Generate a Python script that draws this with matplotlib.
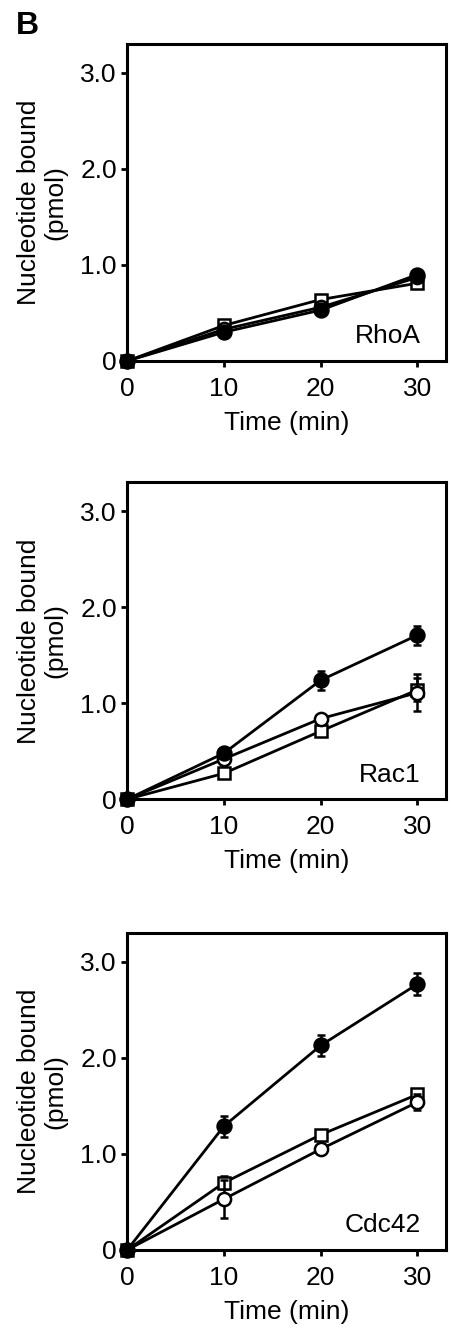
import matplotlib.pyplot as plt
import numpy as np

plt.rcParams['font.family'] = ['Liberation Sans', 'DejaVu Sans']

time = [0, 10, 20, 30]
panels = ['RhoA', 'Rac1', 'Cdc42']

# filled circles
filled = {'RhoA': [0, 0.30, 0.53, 0.90],
          'Rac1': [0, 0.48, 1.24, 1.71],
          'Cdc42': [0, 1.29, 2.13, 2.77]}
filled_err = {'RhoA': [0, 0, 0, 0],
              'Rac1': [0, 0.03, 0.10, 0.10],
              'Cdc42': [0, 0.11, 0.11, 0.11]}
# open circles
opencirc = {'RhoA': [0, 0.33, 0.56, 0.87],
            'Rac1': [0, 0.42, 0.84, 1.11],
            'Cdc42': [0, 0.53, 1.05, 1.54]}
opencirc_err = {'RhoA': [0, 0, 0, 0],
                'Rac1': [0, 0.03, 0.03, 0.19],
                'Cdc42': [0, 0.20, 0.03, 0.08]}
# open squares
squares = {'RhoA': [0, 0.37, 0.64, 0.81],
           'Rac1': [0, 0.27, 0.71, 1.14],
           'Cdc42': [0, 0.70, 1.20, 1.62]}
squares_err = {'RhoA': [0, 0, 0, 0],
               'Rac1': [0, 0.03, 0.03, 0.12],
               'Cdc42': [0, 0.07, 0.03, 0.03]}

fig = plt.figure(figsize=(4.51, 13.31), dpi=100)
bottoms = [0.7288, 0.3995, 0.0609]
fs = 19

for name, b in zip(panels, bottoms):
    ax = fig.add_axes([0.282, b, 0.708, 0.238])
    common = dict(color='black', lw=2.0, capsize=3, capthick=1.8, elinewidth=1.8,
                  markeredgewidth=1.8, clip_on=False)
    ax.errorbar(time, squares[name], yerr=squares_err[name], marker='s', markersize=8.5,
                markerfacecolor='white', markeredgecolor='black', zorder=3, **common)
    ax.errorbar(time, opencirc[name], yerr=opencirc_err[name], marker='o', markersize=9.5,
                markerfacecolor='white', markeredgecolor='black', zorder=4, **common)
    ax.errorbar(time, filled[name], yerr=filled_err[name], marker='o', markersize=10,
                markerfacecolor='black', markeredgecolor='black', zorder=5, **common)

    ax.set_xlim(0, 33)
    ax.set_ylim(0, 3.3)
    ax.set_xticks([0, 10, 20, 30])
    ax.set_yticks([0, 1, 2, 3])
    ax.set_yticklabels(['0', '1.0', '2.0', '3.0'])
    ax.tick_params(direction='out', length=4.5, width=2.0, labelsize=fs,
                   top=False, right=False)
    ax.tick_params(axis='x', pad=7)
    ax.tick_params(axis='y', pad=3)
    for s in ax.spines.values():
        s.set_linewidth(2.2)
    ax.set_xlabel('Time (min)', fontsize=fs, labelpad=7)
    ax.set_ylabel('Nucleotide bound\n(pmol)', fontsize=fs, labelpad=9, linespacing=1.15)
    ax.text(0.92, 0.04, name, transform=ax.transAxes, ha='right', va='bottom', fontsize=fs)

fig.text(0.035, 0.992, 'B', fontsize=23, fontweight='bold', ha='left', va='top')

fig.savefig('out.png', dpi=100)
